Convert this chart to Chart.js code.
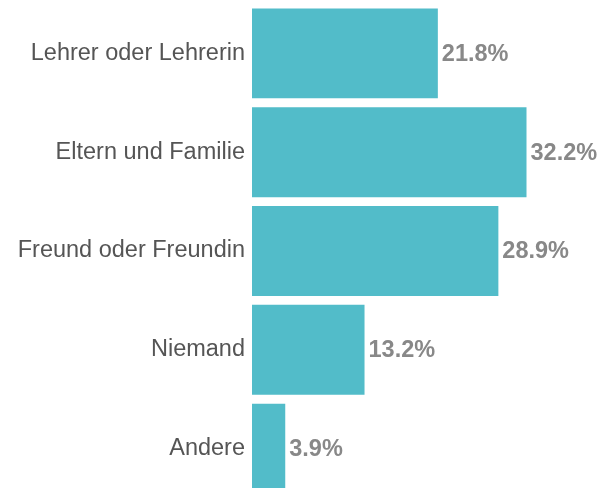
<!DOCTYPE html>
<html>
<head>
<meta charset="utf-8">
<script src="https://cdn.jsdelivr.net/npm/chart.js@4"></script>
<style>
  html, body { margin: 0; padding: 0; background: #fff; overflow: hidden; }
  #wrap { width: 600px; height: 500px; position: relative; }
</style>
</head>
<body>
<div id="wrap"><canvas id="bars"></canvas></div>
<script>
const categories = [
  'Lehrer oder Lehrerin',
  'Eltern und Familie',
  'Freund oder Freundin',
  'Niemand',
  'Andere'
];
const shares = [21.8, 32.2, 28.9, 13.2, 3.9];

// draws the percentage next to each bar
const valueLabels = {
  id: 'valueLabels',
  afterDatasetsDraw(chart) {
    const ctx = chart.ctx;
    const meta = chart.getDatasetMeta(0);
    ctx.save();
    ctx.font = 'bold 23.5px "Liberation Sans", Arial, sans-serif';
    ctx.fillStyle = '#888888';
    ctx.textAlign = 'left';
    ctx.textBaseline = 'middle';
    meta.data.forEach((bar, i) => {
      ctx.fillText(shares[i].toFixed(1) + '%', bar.x + 4, bar.y + 1);
    });
    ctx.restore();
  }
};

const ctx = document.getElementById('bars').getContext('2d');
const chart = new Chart(ctx, {
  type: 'bar',
  data: {
    labels: categories,
    datasets: [{
      data: shares,
      backgroundColor: '#52bcc9',
      borderWidth: 0,
      barPercentage: 0.91,
      categoryPercentage: 1
    }]
  },
  options: {
    indexAxis: 'y',
    responsive: true,
    maintainAspectRatio: false,
    animation: false,
    layout: { padding: { top: 4, right: 7, bottom: 2, left: 0 } },
    plugins: {
      legend: { display: false },
      tooltip: { enabled: false }
    },
    scales: {
      x: {
        display: false,
        min: 0,
        max: 40
      },
      y: {
        afterFit(scale) {
          scale.width = 252;
          scale.paddingTop = 0;
          scale.paddingBottom = 0;
        },
        grid: { display: false, drawTicks: false },
        border: { display: false },
        ticks: {
          color: '#555555',
          padding: 7,
          font: { family: '"Liberation Sans", Arial, sans-serif', size: 23.5 }
        }
      }
    }
  },
  plugins: [valueLabels]
});
</script>
</body>
</html>
